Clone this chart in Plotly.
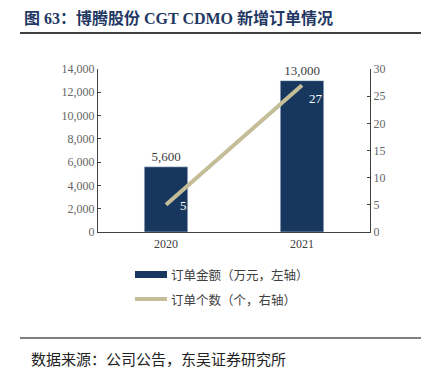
import plotly.graph_objects as go

years = ["2020", "2021"]
order_amount = [5600, 13000]
order_count = [5, 27]
left_ticks = [0, 2000, 4000, 6000, 8000, 10000, 12000, 14000]
right_ticks = [0, 5, 10, 15, 20, 25, 30]

OFF = 8  # page body margin
W, H = 429 - OFF, 375 - OFF
L, R, T, B = 98 - OFF, 370 - OFF, 69 - OFF, 232 - OFF

def px(x):
    return (x - OFF - L) / (R - L)

def py(y):
    return (B - (y - OFF)) / (B - T)

bar_color = "#17375E"
line_color = "#C4BD97"
serif = "Liberation Serif, Times New Roman, serif"
cjk = "Liberation Serif, Noto Sans CJK SC, sans-serif"

fig = go.Figure()
fig.add_trace(go.Bar(
    x=years, y=order_amount, marker_color=bar_color, width=0.32,
    text=[f"{v:,}" for v in order_amount], textposition="outside",
    textfont=dict(family=serif, size=13, color="#404040"),
    cliponaxis=False, name="订单金额（万元，左轴）", showlegend=False,
))
fig.add_trace(go.Scatter(
    x=years, y=order_count, yaxis="y2", mode="lines",
    line=dict(color=line_color, width=4),
    cliponaxis=False, name="订单个数（个，右轴）", showlegend=False,
))

shapes = [
    dict(type="line", xref="paper", yref="paper", x0=px(20), x1=px(422), y0=py(33), y1=py(33),
         line=dict(color="black", width=1.5)),
    dict(type="line", xref="paper", yref="paper", x0=px(20), x1=px(422), y0=py(338), y1=py(338),
         line=dict(color="black", width=1.2)),
    dict(type="rect", xref="paper", yref="paper", x0=px(135), x1=px(167), y0=py(278), y1=py(271),
         fillcolor=bar_color, line=dict(width=0)),
    dict(type="line", xref="paper", yref="paper", x0=px(135), x1=px(167), y0=py(299), y1=py(299),
         line=dict(color=line_color, width=4)),
]
label_shifts = [(17, -1), (14, -13)]
annotations = [
    dict(text=str(v), x=i, y=v, xref="x", yref="y2", xshift=dx, yshift=dy,
         showarrow=False, font=dict(family=serif, size=13, color="white"))
    for i, (v, (dx, dy)) in enumerate(zip(order_count, label_shifts))
]
annotations += [
    dict(text="<b>图 63：博腾股份 CGT CDMO 新增订单情况</b>", xref="paper", yref="paper",
         x=px(22), y=py(18), xanchor="left", yanchor="middle", showarrow=False,
         font=dict(family=cjk, size=16, color="#1F3864")),
    dict(text="订单金额（万元，左轴）", xref="paper", yref="paper",
         x=px(169), y=py(274.5), xanchor="left", yanchor="middle", showarrow=False,
         font=dict(family="Noto Sans CJK SC", size=12.5, color="#404040")),
    dict(text="订单个数（个，右轴）", xref="paper", yref="paper",
         x=px(169), y=py(299), xanchor="left", yanchor="middle", showarrow=False,
         font=dict(family="Noto Sans CJK SC", size=12.5, color="#404040")),
    dict(text="数据来源：公司公告，东吴证券研究所", xref="paper", yref="paper",
         x=px(29), y=py(358), xanchor="left", yanchor="middle", showarrow=False,
         font=dict(family="Noto Sans CJK SC", size=15, color="#222222")),
]

fig.update_layout(
    width=W, height=H, margin=dict(l=L, r=W - R, t=T, b=H - B),
    paper_bgcolor="white", plot_bgcolor="white",
    showlegend=False,
    xaxis=dict(type="category", range=[-0.5, 1.5], showline=True, linecolor="#404040", linewidth=1.2,
               ticks="", tickfont=dict(family=serif, size=12, color="#404040"),
               showgrid=False, zeroline=False),
    yaxis=dict(range=[0, 14000], tickvals=left_ticks, ticktext=[f"{v:,}" for v in left_ticks],
               showline=True, linecolor="#404040", linewidth=1.2,
               ticks="inside", ticklen=3, tickcolor="#404040",
               tickfont=dict(family=serif, size=12, color="#666666"),
               showgrid=False, zeroline=False),
    yaxis2=dict(range=[0, 30], tickvals=right_ticks, overlaying="y", side="right",
                showline=True, linecolor="#404040", linewidth=1.2,
                ticks="inside", ticklen=3, tickcolor="#404040",
                tickfont=dict(family=serif, size=12, color="#666666"),
                showgrid=False, zeroline=False),
    shapes=shapes, annotations=annotations,
)

fig.write_html("out.html")
